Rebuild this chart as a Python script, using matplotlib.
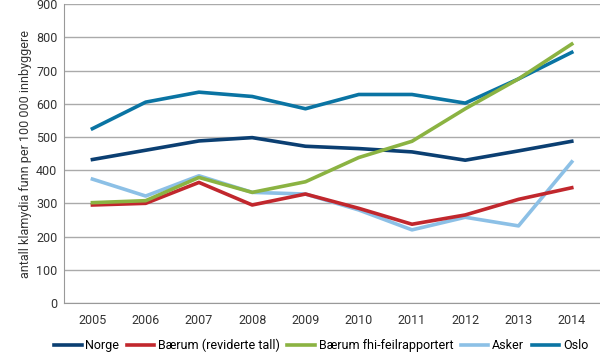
import matplotlib.pyplot as plt

years = [2005, 2006, 2007, 2008, 2009, 2010, 2011, 2012, 2013, 2014]
norge = [432, 460, 488, 498, 472, 465, 455, 430, 458, 487]
baerum_rev = [295, 300, 363, 295, 328, 285, 237, 265, 312, 347]
baerum_fhi = [302, 308, 378, 333, 365, 438, 487, 585, 675, 780]
asker = [373, 322, 383, 333, 328, 280, 220, 258, 232, 425]
oslo = [525, 605, 635, 622, 585, 628, 628, 602, 675, 755]

plt.rcParams['font.family'] = ['Roboto', 'DejaVu Sans']

fig = plt.figure(figsize=(6, 3.53), dpi=100)
ax = fig.add_axes([0.107, 0.142, 0.893, 0.846])

x = list(range(len(years)))
lw = 2.6
ax.plot(x, norge, color='#0b3f72', lw=lw, label='Norge', zorder=4)
ax.plot(x, baerum_rev, color='#c1272d', lw=lw, label='Bærum (reviderte tall)', zorder=5)
ax.plot(x, baerum_fhi, color='#8bb342', lw=lw, label='Bærum fhi-feilrapportert', zorder=6)
ax.plot(x, asker, color='#8cc0e6', lw=lw, label='Asker', zorder=3)
ax.plot(x, oslo, color='#0a74a3', lw=lw, label='Oslo', zorder=3.5)

ax.set_xlim(-0.53, 9.53)
ax.set_ylim(0, 900)
ax.set_yticks(range(0, 1000, 100))
ax.set_xticks(x)
ax.set_xticklabels([str(y) for y in years])
ax.tick_params(length=0, labelsize=9, colors='#333333', pad=8)
ax.tick_params(axis='y', pad=5)
ax.grid(axis='y', color='#aaaaaa', lw=1)
ax.set_axisbelow(True)
for s in ['top', 'right']:
    ax.spines[s].set_visible(False)
ax.spines['left'].set_color('#999999')
ax.spines['bottom'].set_color('#999999')
ax.set_ylabel('antall klamydia funn per 100 000 innbyggere', fontsize=9, color='#333333', labelpad=3)

fig.legend(loc='center', bbox_to_anchor=(0.535, 0.022), ncol=5, frameon=False,
           fontsize=9, handlelength=2.2, columnspacing=0.6, handletextpad=0.3,
           borderaxespad=0, borderpad=0)

fig.savefig('out.png', dpi=100)
